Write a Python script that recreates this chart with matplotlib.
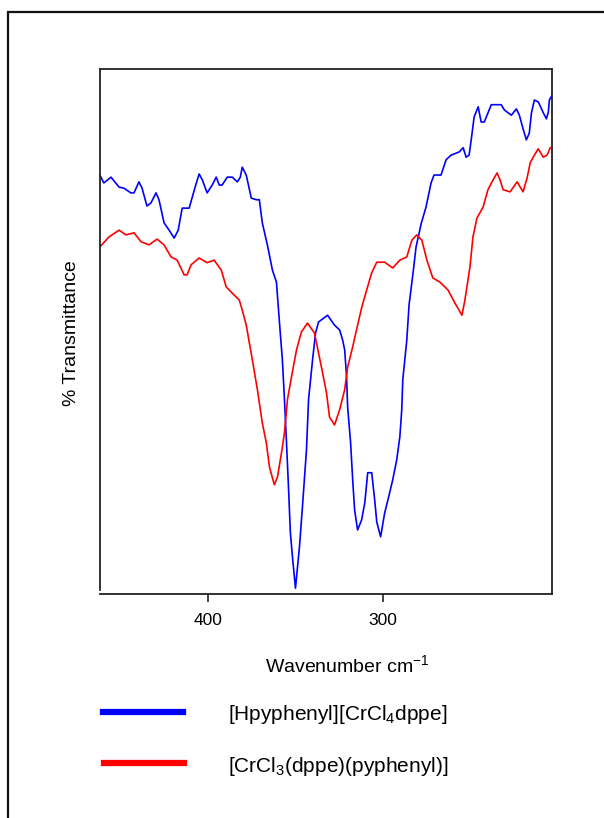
import matplotlib
matplotlib.use("Agg")
import matplotlib.pyplot as plt
from matplotlib.patches import Rectangle
from matplotlib.lines import Line2D

plt.rcParams['font.family'] = ['Liberation Sans', 'DejaVu Sans']
plt.rcParams['mathtext.fontset'] = 'custom'
plt.rcParams['mathtext.rm'] = 'Liberation Sans'
plt.rcParams['mathtext.it'] = 'Liberation Sans'

# Far-IR spectra (wavenumber in cm-1, relative % transmittance)
blue_label = "[Hpyphenyl][CrCl$_4$dppe]"
blue_wn = [462.1, 459.8, 455.7, 451.1, 448.3, 444.3, 442.5, 439.7, 437.9, 435.1,
           432.8, 429.9, 428.2, 425.3, 422.4, 419.5, 417.2, 414.9, 410.9, 407.5,
           405.2, 403.4, 400.6, 397.7, 395.4, 393.7, 392.0, 389.1, 386.2, 383.3,
           381.6, 380.5, 378.2, 375.3, 372.4, 370.7, 369.0, 366.1, 363.2, 360.9,
           359.7, 358.6, 357.5, 356.3, 355.2, 354.0, 352.9, 351.7, 350.0, 347.7,
           346.0, 343.7, 342.5, 340.2, 338.5, 336.8, 331.6, 327.6, 324.7, 323.0,
           321.8, 320.7, 320.1, 318.4, 317.2, 316.1, 314.4, 312.1, 310.3, 308.6,
           306.3, 304.6, 303.4, 301.2, 298.9, 296.6, 294.3, 292.0, 290.2, 289.1,
           288.5, 286.2, 284.9, 282.6, 280.9, 279.1, 278.0, 275.2, 272.3, 270.6,
           266.6, 263.7, 260.8, 256.2, 253.9, 252.2, 250.5, 249.3, 247.6, 245.3,
           243.6, 241.8, 237.8, 232.1, 230.3, 226.3, 223.4, 221.7, 219.4, 217.7,
           216.0, 214.8, 213.1, 210.8, 207.9, 206.2, 205.1, 204.5, 202.7]
blue_t = [79.8, 78.3, 79.4, 77.5, 77.3, 76.4, 76.4, 78.5, 77.3, 73.9,
          74.5, 76.4, 75.1, 70.7, 69.3, 67.8, 69.3, 73.5, 73.5, 77.5,
          80.0, 78.9, 76.4, 77.9, 79.4, 77.9, 77.9, 79.4, 79.4, 78.5,
          79.4, 81.3, 79.8, 75.4, 75.1, 75.1, 70.7, 66.5, 61.7, 59.4,
          54.1, 49.3, 44.6, 37.0, 29.3, 20.4, 11.6, 7.0, 1.1, 9.0,
          16.6, 27.4, 37.0, 44.6, 49.7, 51.8, 53.1, 51.2, 50.3, 48.4,
          46.5, 41.3, 35.6, 28.8, 21.7, 16.0, 12.2, 14.1, 17.3, 23.1,
          23.1, 17.9, 13.7, 10.9, 15.4, 18.5, 21.7, 25.5, 29.9, 35.1,
          40.8, 48.4, 55.1, 61.2, 66.1, 68.8, 70.5, 73.7, 78.3, 79.8,
          79.8, 82.7, 83.6, 84.2, 85.0, 83.2, 83.6, 86.5, 90.9, 92.8,
          89.9, 89.9, 93.2, 93.2, 92.2, 91.2, 92.4, 91.2, 88.4, 86.5,
          87.8, 91.6, 94.1, 93.7, 91.6, 90.5, 91.8, 94.1, 95.1]

red_label = "[CrCl$_3$(dppe)(pyphenyl)]"
red_wn = [462.1, 456.9, 451.1, 447.1, 442.5, 438.5, 433.9, 429.3, 425.3, 421.3,
          417.8, 413.8, 412.1, 409.8, 405.2, 400.6, 396.6, 392.5, 389.7, 386.2,
          382.2, 380.5, 378.2, 374.7, 371.8, 369.0, 366.7, 364.9, 362.1, 360.3,
          358.0, 356.3, 354.6, 352.3, 349.4, 346.6, 343.1, 339.1, 335.1, 332.2,
          330.5, 327.6, 324.7, 321.8, 320.1, 317.2, 314.4, 312.1, 309.2, 306.3,
          303.4, 298.9, 294.3, 290.2, 286.2, 283.3, 280.5, 277.6, 274.7, 271.3,
          267.2, 262.6, 258.6, 254.6, 252.9, 250.0, 248.3, 246.0, 242.5, 239.7,
          237.4, 234.5, 232.8, 231.0, 227.0, 223.0, 219.6, 217.3, 215.5, 213.8,
          210.9, 208.0, 205.8, 204.0]
red_t = [66.1, 68.0, 69.3, 68.4, 68.8, 67.1, 66.5, 67.6, 66.5, 64.2,
         63.6, 60.8, 60.8, 62.7, 64.0, 63.1, 63.6, 61.7, 58.5, 57.3,
         56.0, 54.1, 51.2, 44.6, 38.9, 32.6, 28.8, 24.2, 20.8, 22.3,
         26.9, 30.7, 37.0, 41.3, 46.5, 49.9, 51.6, 49.7, 43.2, 38.3,
         33.7, 32.2, 35.1, 38.9, 43.2, 47.1, 51.2, 54.5, 57.9, 61.2,
         63.2, 63.2, 62.1, 63.6, 64.2, 67.4, 68.4, 67.4, 63.6, 60.2,
         59.4, 57.9, 55.4, 53.1, 56.0, 62.3, 68.0, 71.6, 73.7, 77.0,
         78.5, 80.2, 78.9, 77.0, 76.6, 78.5, 76.6, 79.2, 82.1, 83.2,
         84.8, 83.2, 83.6, 85.0]

x_ticks = [400, 300]

W, H = 604, 818
fig = plt.figure(figsize=(W / 100, H / 100), dpi=100)

# outer frame
fig.patches.append(Rectangle((8 / W, -0.05), 1.2, 1 - 12 / H + 0.05,
                             transform=fig.transFigure, fill=False,
                             edgecolor='#111111', linewidth=1.6))

ax = fig.add_axes([100 / W, 1 - 594 / H, (552 - 100) / W, (594 - 69) / H])
ax.plot(blue_wn, blue_t, color='#0000ff', linewidth=1.2)
ax.plot(red_wn, red_t, color='#ff0000', linewidth=1.2)

ax.set_xlim(462, 203)
ax.set_ylim(0, 100)
ax.set_xticks(x_ticks)
ax.set_xticklabels([str(t) for t in x_ticks], fontsize=12.5)
ax.set_yticks([])
ax.tick_params(axis='x', direction='out', length=6, width=1.2, pad=8, color='#222222')
for s in ax.spines.values():
    s.set_color('#222222')
    s.set_linewidth(1.3)
ax.spines['left'].set_bounds(0.8, 100)

fig.text(71 / W, 1 - 333 / H, "% Transmittance", rotation=90,
         ha='center', va='center', fontsize=14)
fig.text(347 / W, 1 - 665 / H, "Wavenumber cm$^{-1}$",
         ha='center', va='center', fontsize=14)

# legend
fig.lines.append(Line2D([103 / W, 183 / W], [1 - 712 / H, 1 - 712 / H],
                        transform=fig.transFigure, color='#0000ff', linewidth=4.5))
fig.lines.append(Line2D([104 / W, 184 / W], [1 - 763 / H, 1 - 763 / H],
                        transform=fig.transFigure, color='#ff0000', linewidth=4.5))
fig.text(228 / W, 1 - 714 / H, blue_label, ha='left', va='center', fontsize=15)
fig.text(228 / W, 1 - 766 / H, red_label, ha='left', va='center', fontsize=15)

fig.savefig("out.png", dpi=100)
